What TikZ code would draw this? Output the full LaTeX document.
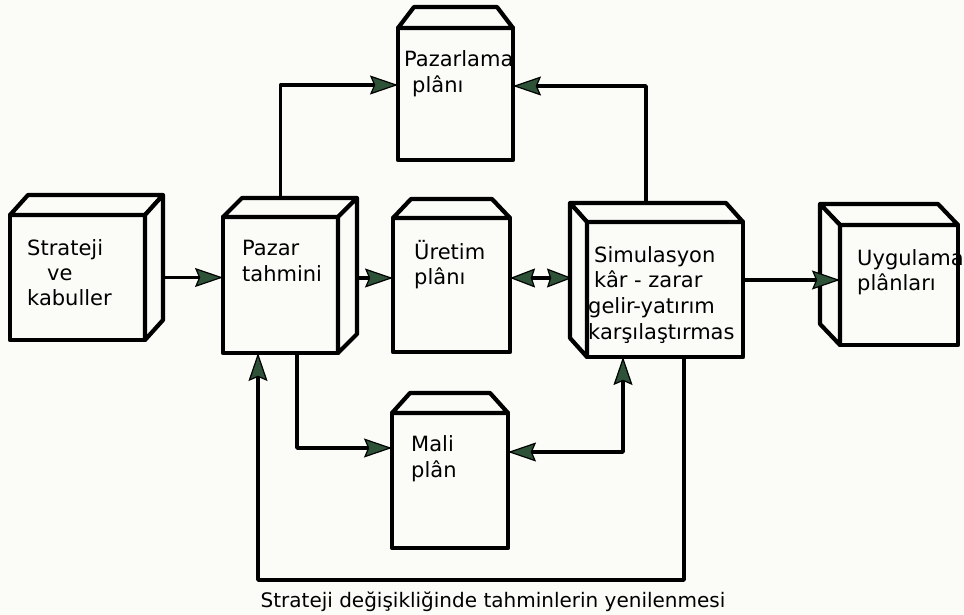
\documentclass[tikz,border=0pt]{standalone}
\usepackage{fontspec}
\setmainfont{DejaVu Sans}
\usetikzlibrary{arrows.meta,calc}
\definecolor{paper}{HTML}{FBFBF7}
\definecolor{agreen}{HTML}{2D5238}
\tikzset{
  box/.style={draw=black, line width=4.2pt, fill=paper, outer sep=0pt, inner sep=0pt, line join=round},
  face/.style={draw=black, line width=4.2pt, fill=paper, line join=round},
  lbl/.style={anchor=base west, inner sep=0pt, font=\fontsize{21}{25}\selectfont},
  conn/.style={line width=3.8pt, line join=round},
  >={Stealth[length=28pt,width=19pt,inset=4pt,fill=agreen,line width=1.2pt]},
  smalltips/.style={>={Stealth[length=25pt,width=19pt,inset=3pt,fill=agreen,line width=1.2pt]}},
}
\newcommand\cubeRight[3]{%
  \filldraw[face] (#1.north west) -- ($(#1.north west)+(#2,#3)$) -- ($(#1.north east)+(#2,#3)$) -- (#1.north east) -- cycle;
  \filldraw[face] (#1.north east) -- ($(#1.north east)+(#2,#3)$) -- ($(#1.south east)+(#2,#3)$) -- (#1.south east) -- cycle;
}
\newcommand\cubeLeft[3]{%
  \filldraw[face] (#1.north east) -- ($(#1.north east)+(#2,#3)$) -- ($(#1.north west)+(#2,#3)$) -- (#1.north west) -- cycle;
  \filldraw[face] (#1.north west) -- ($(#1.north west)+(#2,#3)$) -- ($(#1.south west)+(#2,#3)$) -- (#1.south west) -- cycle;
}
\newcommand\capTop[3]{%
  \filldraw[face] (#1.north west) -- ($(#1.north west)+(#2,-#3)$) -- ($(#1.north east)+(-#2,-#3)$) -- (#1.north east) -- cycle;
}
\begin{document}
\begin{tikzpicture}[x=1pt,y=-1pt]
\fill[paper] (0,0) rectangle (964,615);
\useasboundingbox (0,0) rectangle (964,615);

% boxes
\node[box, minimum width=135pt, minimum height=125pt] (strat) at (77.5,277.5) {};
\cubeRight{strat}{18}{-20}
\node[box, minimum width=115pt, minimum height=136pt] (pazar) at (280.5,285) {};
\cubeRight{pazar}{19}{-19}
\node[box, minimum width=115pt, minimum height=132pt] (pplan) at (455.5,94) {};
\capTop{pplan}{16}{21}
\node[box, minimum width=117pt, minimum height=134pt] (uretim) at (451.5,285) {};
\capTop{uretim}{18}{19}
\node[box, minimum width=116pt, minimum height=135pt] (mali) at (450,480.5) {};
\capTop{mali}{18}{20}
\node[box, minimum width=156pt, minimum height=135pt] (simul) at (665,289.5) {};
\cubeLeft{simul}{-17}{-19}
\node[box, minimum width=118pt, minimum height=120pt] (uyg) at (899,285) {};
\cubeLeft{uyg}{-20}{-21}

% connectors
\draw[conn,->] ([xshift=18pt]strat.east) -- (strat.east -| pazar.west);
\draw[conn,->] ([xshift=19pt,yshift=7pt]pazar.east) coordinate (a2s) -- (a2s -| uretim.west);
\draw[conn,->] ([yshift=19pt]pazar.north) |- ([yshift=9pt]pplan.west);
\draw[conn,->] ([xshift=-19pt,yshift=19pt]simul.north) |- ([yshift=8pt]pplan.east);
\draw[conn,smalltips,<->] ([yshift=7pt]uretim.east) coordinate (a5s) -- ($(a5s -| simul.west)+(-15,0)$);
\draw[conn,->] ([yshift=9.5pt]simul.east) coordinate (a6s) -- (a6s -| uyg.west);
\draw[conn,->] ([xshift=16.5pt]pazar.south) |- ([yshift=32.5pt]mali.west);
\draw[conn,<->] ([yshift=28.5pt]mali.east) -| ([xshift=-42pt]simul.south);
\draw[conn,->] ([xshift=19pt]simul.south) -- ++(0,223) -| ([xshift=-22.5pt]pazar.south);

% texts
\node[lbl] (t1a) at (27,255) {Strateji};
\node[lbl] (t1b) at (47,280) {ve};
\node[lbl] (t1c) at (27,305) {kabuller};
\node[lbl] (t2a) at (242,255) {Pazar};
\node[lbl] (t2b) at (242,281) {tahmini};
\node[lbl] (t3a) at (404,67) {Pazarlama};
\node[lbl] (t3b) at (412,93) {plânı};
\node[lbl] (t4a) at (414,259) {Üretim};
\node[lbl] (t4b) at (414,284) {plânı};
\node[lbl] (t5a) at (594,262) {Simulasyon};
\node[lbl] (t5b) at (594,287) {kâr - zarar};
\node[lbl] (t5c) at (588,313) {gelir-yatırım};
\node[lbl] (t5d) at (588,339) {karşılaştırmas};
\node[lbl] (t6a) at (857,265) {Uygulama};
\node[lbl] (t6b) at (857,290) {plânları};
\node[lbl] (t7a) at (411,451) {Mali};
\node[lbl] (t7b) at (411,477) {plân};
\node[lbl, anchor=base, font=\fontsize{20}{24}\selectfont] (t8) at (493,607) {Strateji değişikliğinde tahminlerin yenilenmesi};
\end{tikzpicture}
\end{document}
